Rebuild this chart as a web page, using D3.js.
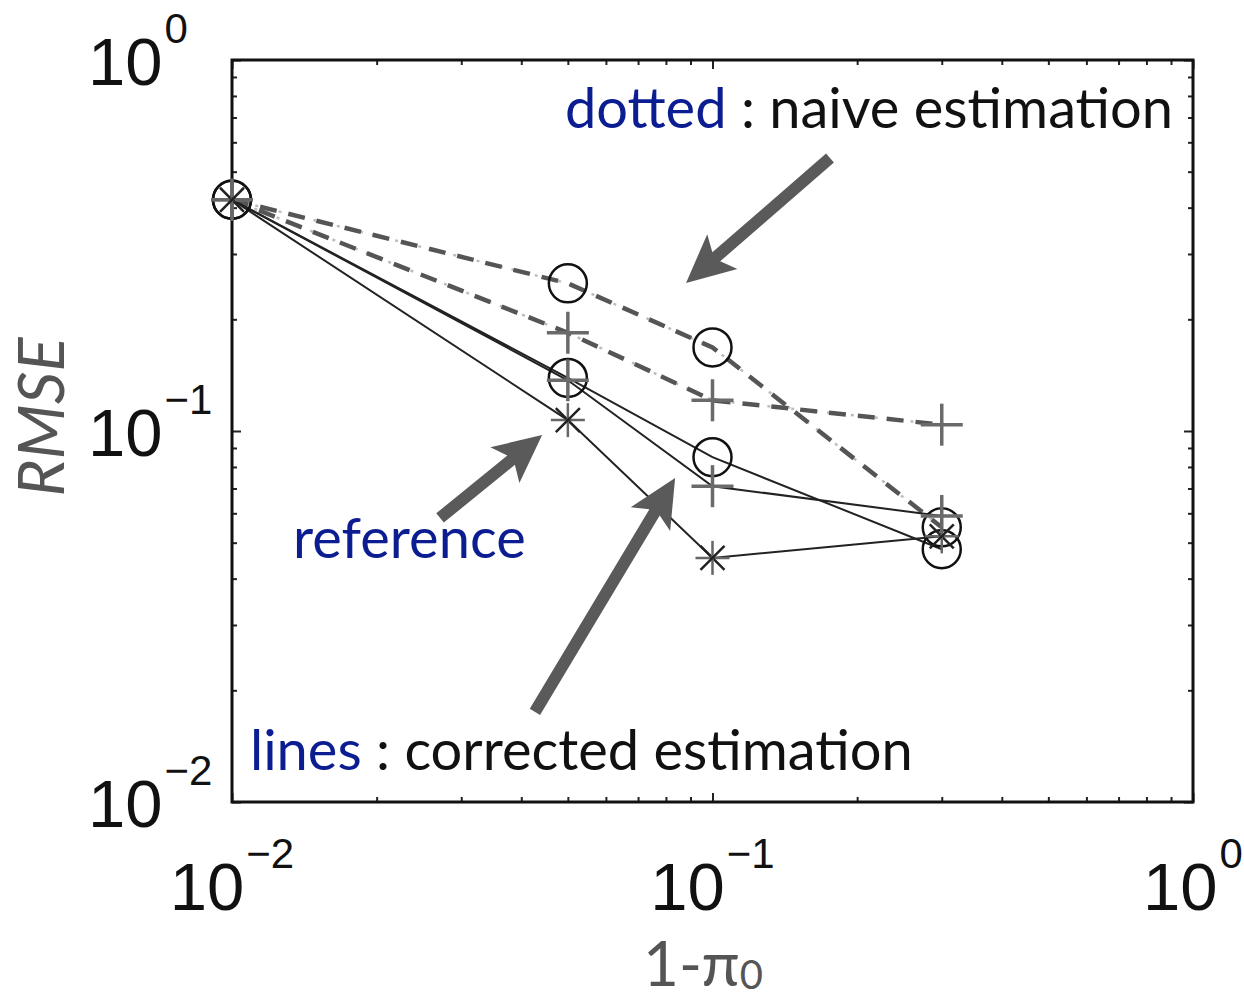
<!DOCTYPE html>
<html>
<head>
<meta charset="utf-8">
<script src="https://cdn.jsdelivr.net/npm/d3@7"></script>
<style>
  html, body { margin: 0; padding: 0; background: #fff; }
  svg { display: block; }
</style>
</head>
<body>
<svg id="chart" width="1244" height="1000"></svg>
<script>
// Sample sizes on the x axis (1 - pi0) and RMSE for each estimator
const xValues = [0.01, 0.05, 0.1, 0.3];
const naiveCircle = [0.42, 0.25, 0.168, 0.055];
const naivePlus = [0.42, 0.184, 0.121, 0.104];
const correctedCircle = [0.42, 0.139, 0.085, 0.048];
const correctedPlus = [0.42, 0.137, 0.071, 0.059];
const referenceStar = [0.42, 0.107, 0.0455, 0.052];

// Decade tick labels (exponents of 10)
const xExponents = [-2, -1, 0];
const yExponents = [0, -1, -2];

const svg = d3.select("#chart");
const plotLeft = 232, plotRight = 1193, plotTop = 60, plotBottom = 802;

const x = d3.scaleLog().domain([0.01, 1]).range([plotLeft, plotRight]);
const y = d3.scaleLog().domain([0.01, 1]).range([plotBottom, plotTop]);

const minorTicks = [];
for (let e = -2; e < 0; e++) for (let m = 2; m <= 9; m++) minorTicks.push(m * Math.pow(10, e));
const majorTicks = [0.01, 0.1, 1];

// Inward-facing ticks on all four sides
function ticks(axisFn, scale, values, size, transform) {
  const g = svg.append("g").attr("transform", transform)
    .call(axisFn(scale).tickValues(values).tickSize(size).tickFormat(""));
  g.select(".domain").remove();
  g.selectAll("line").attr("stroke", "#222").attr("stroke-width", 2);
}
ticks(d3.axisBottom, x, minorTicks, -5, `translate(0,${plotBottom})`);
ticks(d3.axisBottom, x, majorTicks, -9, `translate(0,${plotBottom})`);
ticks(d3.axisTop, x, minorTicks, -5, `translate(0,${plotTop})`);
ticks(d3.axisTop, x, majorTicks, -9, `translate(0,${plotTop})`);
ticks(d3.axisLeft, y, minorTicks, -5, `translate(${plotLeft},0)`);
ticks(d3.axisLeft, y, majorTicks, -9, `translate(${plotLeft},0)`);
ticks(d3.axisRight, y, minorTicks, -5, `translate(${plotRight},0)`);
ticks(d3.axisRight, y, majorTicks, -9, `translate(${plotRight},0)`);

// Frame
svg.append("rect")
  .attr("x", plotLeft).attr("y", plotTop)
  .attr("width", plotRight - plotLeft).attr("height", plotBottom - plotTop)
  .attr("fill", "none").attr("stroke", "#111").attr("stroke-width", 3);

const minus = "\u2212";
function powerLabel(sel, e) {
  sel.append("tspan").text("10");
  sel.append("tspan")
    .attr("font-size", 42).attr("dy", -42).attr("dx", 2)
    .text(e < 0 ? minus + Math.abs(e) : String(e));
}

// x tick labels
xExponents.forEach(e => {
  const t = svg.append("text")
    .attr("x", x(Math.pow(10, e))).attr("y", 910)
    .attr("text-anchor", "middle")
    .attr("font-family", "Liberation Sans, Arial, sans-serif")
    .attr("font-size", 67).attr("fill", "#111");
  powerLabel(t, e);
});

// y tick labels
yExponents.forEach(e => {
  const t = svg.append("text")
    .attr("x", 88).attr("y", y(Math.pow(10, e)) + 25)
    .attr("text-anchor", "start")
    .attr("font-family", "Liberation Sans, Arial, sans-serif")
    .attr("font-size", 67).attr("fill", "#111");
  powerLabel(t, e);
});

// Axis titles
svg.append("text")
  .attr("transform", `translate(64,${(342 + 492) / 2}) rotate(-90)`)
  .attr("text-anchor", "middle")
  .attr("font-family", "Lato, Open Sans, sans-serif")
  .attr("font-style", "italic")
  .attr("font-size", 64).attr("fill", "#555")
  .text("RMSE");

const xTitle = svg.append("text")
  .attr("x", 703).attr("y", 986)
  .attr("text-anchor", "middle")
  .attr("font-family", "Lato, Open Sans, sans-serif")
  .attr("font-size", 62).attr("fill", "#555");
xTitle.append("tspan").text("1-π");
xTitle.append("tspan").attr("font-size", 40).attr("dy", 3).text("0");

// Curves
const line = d3.line().x(d => x(d[0])).y(d => y(d[1]));
const pts = vals => xValues.map((v, i) => [v, vals[i]]);

// naive estimators: faint dash-dot base with heavy dashed stroke on top
[naiveCircle, naivePlus].forEach(vals => {
  svg.append("path").attr("d", line(pts(vals)))
    .attr("fill", "none").attr("stroke", "#bdbdbd").attr("stroke-width", 2.5)
    .attr("stroke-dasharray", "3 9");
  svg.append("path").attr("d", line(pts(vals)))
    .attr("fill", "none").attr("stroke", "#555").attr("stroke-width", 4.5)
    .attr("stroke-dasharray", "17 12");
});

// corrected estimators and the reference: thin solid lines
[correctedCircle, correctedPlus, referenceStar].forEach(vals => {
  svg.append("path").attr("d", line(pts(vals)))
    .attr("fill", "none").attr("stroke", "#222").attr("stroke-width", 2);
});

// Markers
function circles(vals) {
  svg.append("g").selectAll("circle").data(pts(vals)).join("circle")
    .attr("cx", d => x(d[0])).attr("cy", d => y(d[1])).attr("r", 19)
    .attr("fill", "none").attr("stroke", "#111").attr("stroke-width", 2.5);
}
function pluses(vals, color) {
  const g = svg.append("g").selectAll("g").data(pts(vals)).join("g")
    .attr("transform", d => `translate(${x(d[0])},${y(d[1])})`);
  g.append("line").attr("x1", -21).attr("x2", 21).attr("stroke", color).attr("stroke-width", 3.5);
  g.append("line").attr("y1", -21).attr("y2", 21).attr("stroke", color).attr("stroke-width", 3.5);
}
function stars(vals) {
  const g = svg.append("g").selectAll("g").data(pts(vals)).join("g")
    .attr("transform", d => `translate(${x(d[0])},${y(d[1])})`);
  [0, 45, 90, 135].forEach(a => {
    g.append("line").attr("x1", -17).attr("x2", 17)
      .attr("transform", `rotate(${a})`)
      .attr("stroke", a % 90 === 0 ? "#666" : "#222").attr("stroke-width", 2.5);
  });
}
circles(naiveCircle);
pluses(naivePlus, "#6a6a6a");
circles(correctedCircle);
pluses(correctedPlus, "#6a6a6a");
stars(referenceStar);

// Annotation arrows, given in data coordinates (tail -> tip)
const arrows = [
  { from: [0.1756, 0.544], to: [0.0881, 0.2506] },
  { from: [0.0271, 0.0583], to: [0.0442, 0.0976] },
  { from: [0.0427, 0.0175], to: [0.0836, 0.0747] }
];
arrows.forEach(a => {
  const x0 = x(a.from[0]), y0 = y(a.from[1]);
  const x1 = x(a.to[0]), y1 = y(a.to[1]);
  const dx = x1 - x0, dy = y1 - y0, len = Math.hypot(dx, dy);
  const ux = dx / len, uy = dy / len, nx = -uy, ny = ux;
  const headLen = 48, headHalf = 23, shaftHalf = 6;
  const bx = x1 - ux * headLen, by = y1 - uy * headLen;
  const p = [
    [x0 + nx * shaftHalf, y0 + ny * shaftHalf],
    [bx + nx * shaftHalf + ux * 8, by + ny * shaftHalf + uy * 8],
    [bx + nx * headHalf, by + ny * headHalf],
    [x1, y1],
    [bx - nx * headHalf, by - ny * headHalf],
    [bx - nx * shaftHalf + ux * 8, by - ny * shaftHalf + uy * 8],
    [x0 - nx * shaftHalf, y0 - ny * shaftHalf]
  ];
  svg.append("path").attr("d", "M" + p.map(q => q.join(",")).join("L") + "Z")
    .attr("fill", "#5a5a5a");
});

// Annotation texts (anchored in data coordinates)
const navy = "#0b1d91";
const annFont = "Lato, Open Sans, sans-serif";
function annotation(pos, parts) {
  const t = svg.append("text")
    .attr("x", x(pos[0])).attr("y", y(pos[1]))
    .attr("font-family", annFont).attr("font-size", 56);
  parts.forEach(p => t.append("tspan").attr("fill", p.color).text(p.text));
}
annotation([0.0493, 0.656], [
  { text: "dotted", color: navy },
  { text: " : naive estimation", color: "#111" }
]);
annotation([0.0134, 0.0455], [{ text: "reference", color: navy }]);
annotation([0.0109, 0.0122], [
  { text: "lines", color: navy },
  { text: " : corrected estimation", color: "#111" }
]);
</script>
</body>
</html>
